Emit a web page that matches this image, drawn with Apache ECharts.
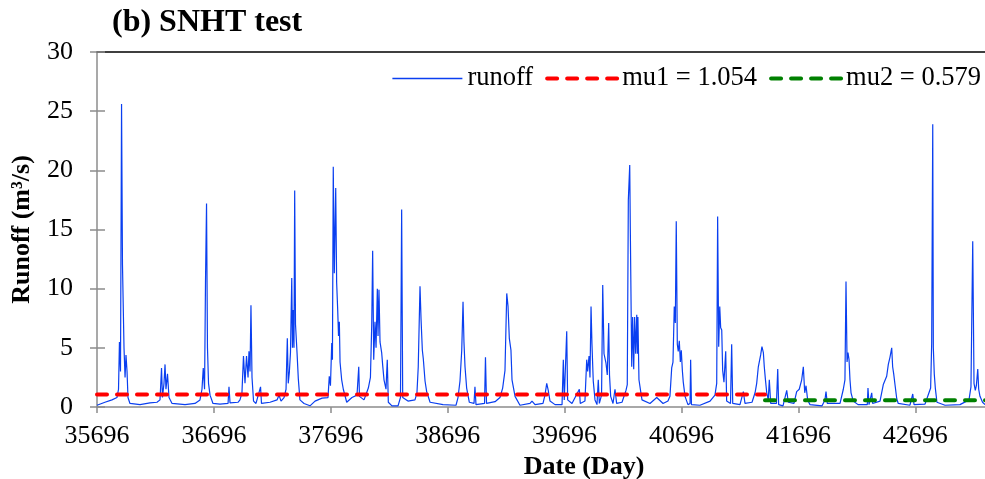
<!DOCTYPE html>
<html>
<head>
<meta charset="utf-8">
<script src="https://cdn.jsdelivr.net/npm/echarts@6/dist/echarts.min.js"></script>
<style>
html,body{margin:0;padding:0;background:#fff;}
#chart{width:985px;height:479px;}
</style>
</head>
<body>
<div id="chart"></div>
<script>
// ---- data ----
const titleText = "(b) SNHT test";
const xTicks = [35696, 36696, 37696, 38696, 39696, 40696, 41696, 42696];
const yTicks = [0, 5, 10, 15, 20, 25, 30];
const xMin = 35696, xMax = 43292;

const days = [
35696,35764,35824,35867,35880,35888,35897,35906,35914,35921,35927,35936,35944,35953,35961,35978,
36064,36149,36209,36235,36248,36256,36269,36278,36286,36299,36312,36338,
36449,36534,36577,36594,36605,36616,36624,36633,36641,36650,36663,36688,
36748,36817,36825,36834,36902,36919,36936,36949,36962,36975,36988,36996,37005,37013,37022,37035,37056,
37073,37095,37103,37176,37236,37253,37270,37296,37313,37324,37332,37341,37351,37362,37368,37375,37381,37387,37394,37400,37407,37418,37432,37467,
37518,37561,37621,37672,37683,37693,37704,37710,37717,37726,37738,37746,37755,37762,37769,37775,37789,37803,37832,
37877,37920,37935,37941,37980,38017,38035,38046,38054,38063,38074,38083,38094,38100,38108,38117,38131,38140,38151,38168,38179,38188,
38219,38271,38292,38302,38311,38356,38416,38433,38444,38459,38468,38479,38487,38502,38516,38545,
38656,38767,38784,38801,38816,38827,38835,38844,38858,38881,38921,38929,38938,
39011,39019,39028,39101,39143,39166,39186,39201,39212,39223,39237,39246,39272,39314,
39400,39417,39443,39511,39528,39543,39556,39571,39614,39674,39685,39693,39714,39722,39759,
39822,39830,39870,39885,39893,39905,39913,39922,39930,39941,39956,39973,39984,39993,
40012,40022,40033,40050,40061,40073,40080,40090,40110,40127,40141,40187,
40221,40232,40241,40253,40258,40270,40278,40287,40295,40304,40313,40319,40323,40332,40347,40358,
40426,40484,40538,40580,40597,40612,40623,40634,40643,40651,40660,40668,40677,40686,40694,40703,40711,40726,40751,
40769,40774,40781,40854,40940,40982,40997,41005,41014,41023,41031,41040,41048,41059,41074,41082,
41115,41125,41134,41196,41225,41239,41299,41325,41339,41353,41373,41384,41396,41404,41413,41425,41438,41447,41459,
41508,41519,41527,41564,41596,41609,41658,41681,41703,41724,41738,41750,41761,41775,41795,
41898,41923,41932,41943,42052,42080,42094,42103,42112,42120,42129,42137,42146,42165,42206,
42285,42291,42300,42323,42331,42394,42422,42437,42451,42465,42479,42494,42502,42511,42522,42537,42550,
42650,42674,42685,42779,42827,42836,42845,42850,42858,42867,42881,42950,
43078,43155,43172,43187,43198,43209,43218,43230,43238,43249,43271,43292
];
const runoff = [
0.15,0.4,0.6,0.8,1.5,5.5,3,25.6,12,12,5,2.5,4.4,3,0.8,0.3,
0.2,0.35,0.4,0.6,3.3,0.8,2,3.6,1.5,2.8,0.8,0.3,
0.2,0.3,0.6,1.5,3.3,1.5,10.5,17.2,5,2,1,0.3,
0.25,0.3,1.7,0.35,0.4,0.6,1.2,4.3,2,4.3,2.5,4.7,3,8.6,2.5,0.5,0.3,
0.3,1.7,0.3,0.4,0.6,1.0,0.5,0.8,1.5,5.8,2,2.9,4.6,10.9,5,8.2,5,18.3,7,7.1,4.6,2.4,0.6,0.3,
0.1,0.5,0.75,0.8,2.6,1.8,5.4,4,20.3,11.3,18.5,10.5,8.2,6,7.2,3.8,2.3,1.5,0.4,
0.8,1.0,3.4,0.9,0.6,1.6,2.5,6.9,13.2,4,7.2,5,10.0,6,9.9,5.5,4.6,3.5,2.3,1.5,4.0,0.4,
0.1,0.1,0.8,16.7,0.8,0.5,0.6,1.2,3.4,10.2,7.4,4.8,4.1,2.2,1.3,0.4,
0.2,0.15,0.8,2.2,4.8,8.9,5.5,3.4,1.6,0.4,0.3,1.7,0.2,
0.3,4.2,0.3,0.45,0.8,1.6,3.1,9.6,8.5,5.8,4.8,2.3,0.9,0.15,
0.3,0.5,0.2,0.3,1.0,2.0,1.4,0.5,0.2,0.2,4.0,0.6,6.4,0.6,0.3,
1.5,0.3,0.5,4.0,3.0,4.3,2.5,8.5,5.3,2.2,0.6,0.2,2.3,0.3,
1.0,10.3,4.5,3.7,2.7,7.1,2.7,0.9,0.3,1.5,0.3,0.4,
1.4,1.9,17.5,20.45,15.0,3.4,7.6,3.2,7.6,4.5,7.8,4.5,7.6,2.3,1.3,0.6,
0.3,0.8,0.3,0.5,0.9,3.3,3.8,8.5,7.1,15.7,5.3,4.7,5.6,3.8,4.8,3.1,2.1,0.9,0.2,
0.3,4.0,0.2,0.15,0.5,1.0,2.0,16.1,5.1,8.5,6.7,6.5,3.1,2.1,4.7,0.5,
0.3,5.3,0.3,0.2,1.3,0.3,0.4,1.2,2.0,3.4,4.4,5.1,4.6,3.4,2.4,1.2,0.6,2.3,0.3,
0.3,3.2,0.2,0.1,1.4,0.4,0.3,1.3,1.5,2.3,3.4,1.2,1.8,0.6,0.2,
0.1,0.6,1.3,0.3,0.3,1.5,2.3,10.6,3.8,4.6,4.0,2.3,1.2,0.5,0.2,
0.2,1.6,0.2,1.2,0.3,0.5,1.9,2.0,2.6,3.6,4.2,5.0,3.4,2.8,1.9,0.7,0.3,
0.15,1.1,0.2,0.25,1.6,5.4,23.9,5,2.8,1.6,0.4,0.15,
0.2,0.6,1.7,14.0,2.0,1.4,1.8,3.2,1.5,0.9,0.4,0.2
];
const mu1Days = [35696, 41410];
const mu1Values = [1.054, 1.054];
const mu2Days = [41410, 43292];
const mu2Values = [0.579, 0.579];
const seriesNames = ["runoff", "mu1 = 1.054", "mu2 = 0.579"];

// ---- chart ----
const zip = (a, b) => a.map((v, i) => [v, b[i]]);
const FONT = "'Liberation Serif','Times New Roman',serif";
const GRAY = '#8c8c8c';
const chart = echarts.init(document.getElementById('chart'), null, {renderer: 'canvas'});
chart.setOption({
  animation: false,
  backgroundColor: '#ffffff',
  title: {
    text: titleText, left: 112, top: 7, padding: 0,
    textStyle: {fontFamily: FONT, fontWeight: 'bold', fontSize: 32, color: '#000'}
  },
  legend: {
    right: 4, top: 65, padding: 0, itemGap: 12, itemWidth: 70, itemHeight: 14,
    textStyle: {fontFamily: FONT, fontSize: 26.5, color: '#000'},
    itemStyle: {opacity: 0, borderWidth: 0},
    data: [
      {name: seriesNames[0], lineStyle: {width: 1.5}},
      {name: seriesNames[1], lineStyle: {width: 4}},
      {name: seriesNames[2], lineStyle: {width: 4}}
    ]
  },
  grid: {left: 97, right: 0, top: 52, bottom: 72, containLabel: false, outerBoundsMode: 'none'},
  xAxis: [{
    type: 'value', min: xMin, max: xMax, position: 'bottom',
    name: 'Date (Day)', nameLocation: 'middle', nameGap: 42,
    nameTextStyle: {fontFamily: FONT, fontWeight: 'bold', fontSize: 26, color: '#000', padding: [0, 0, 0, 86]},
    axisLine: {show: true, onZero: false, lineStyle: {color: GRAY, width: 1.5}},
    axisTick: {show: true, length: 6, customValues: xTicks, lineStyle: {color: GRAY, width: 1.5}},
    axisLabel: {customValues: xTicks, margin: 16, fontFamily: FONT, fontSize: 26, color: '#000',
      formatter: v => String(Math.round(v))},
    splitLine: {show: false}
  }, {
    type: 'value', min: xMin, max: xMax, position: 'top',
    axisLine: {show: true, onZero: false, lineStyle: {color: '#000', width: 1.5}},
    axisTick: {show: false}, axisLabel: {show: false}, splitLine: {show: false}
  }],
  yAxis: [{
    type: 'value', min: 0, max: 30, interval: 5, position: 'left',
    name: 'Runoff (m³/s)', nameLocation: 'middle', nameGap: 62, nameRotate: 90,
    nameTextStyle: {fontFamily: FONT, fontWeight: 'bold', fontSize: 26, color: '#000'},
    axisLine: {show: true, onZero: false, lineStyle: {color: GRAY, width: 1.5}},
    axisTick: {show: true, length: 7, customValues: yTicks, lineStyle: {color: GRAY, width: 1.5}},
    axisLabel: {margin: 24, fontFamily: FONT, fontSize: 26, color: '#000'},
    splitLine: {show: false}
  }, {
    type: 'value', min: 0, max: 30, interval: 5, position: 'left',
    axisLine: {show: false},
    axisTick: {show: true, inside: true, length: 8, lineStyle: {color: GRAY, width: 1.5}},
    axisLabel: {show: false}, splitLine: {show: false}
  }],
  series: [{
    name: seriesNames[0], type: 'line', data: zip(days, runoff),
    showSymbol: false, symbol: 'none', z: 3,
    lineStyle: {color: '#0a3ff0', width: 1.2}, itemStyle: {color: '#0a3ff0'}
  }, {
    name: seriesNames[1], type: 'line', data: zip(mu1Days, mu1Values),
    showSymbol: false, symbol: 'none', z: 4,
    lineStyle: {color: '#ff0000', width: 4, type: [10, 10], cap: 'round'}, itemStyle: {color: '#ff0000'}
  }, {
    name: seriesNames[2], type: 'line', data: zip(mu2Days, mu2Values),
    showSymbol: false, symbol: 'none', z: 4,
    lineStyle: {color: '#008000', width: 4, type: [10, 10], cap: 'round'}, itemStyle: {color: '#008000'}
  }]
});
</script>
</body>
</html>
